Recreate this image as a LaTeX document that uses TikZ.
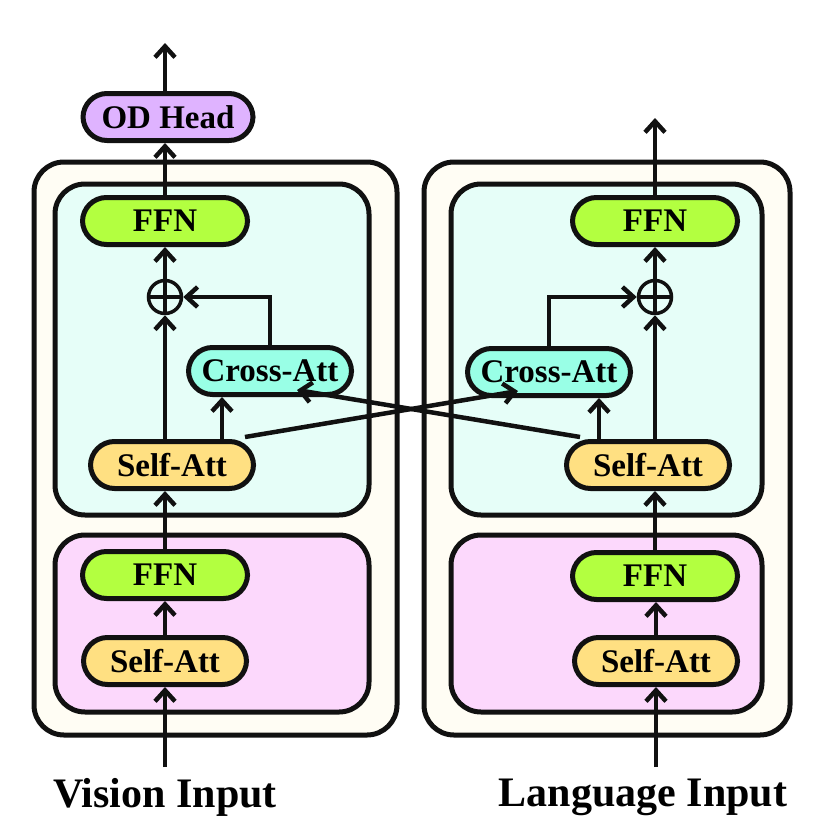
\documentclass[tikz,border=0pt]{standalone}
\usepackage{fontspec}
\setmainfont{Liberation Serif}
\usetikzlibrary{arrows.meta,calc}
\definecolor{outerfill}{HTML}{FFFDF4}
\definecolor{cyanfill}{HTML}{E6FEF8}
\definecolor{pinkfill}{HTML}{FCD8FC}
\definecolor{ffnfill}{HTML}{B3FF40}
\definecolor{safill}{HTML}{FFE082}
\definecolor{cafill}{HTML}{99FFE6}
\definecolor{odfill}{HTML}{DFB3FF}
\definecolor{ink}{HTML}{111111}
\tikzset{
  blk/.style={draw=ink, line width=5pt, rounded corners=24pt, minimum height=47pt, inner sep=0pt,
    font=\fontsize{33}{38}\selectfont\bfseries},
  ffnbox/.style={blk, fill=ffnfill, minimum width=165pt},
  sabox/.style={blk, fill=safill, minimum width=163pt},
  cabox/.style={blk, fill=cafill, minimum width=163pt},
  odbox/.style={blk, fill=odfill, minimum width=170pt},
  container/.style={draw=ink, line width=5pt, rounded corners=30pt},
  arr/.style={draw=ink, line width=4.5pt, -{Straight Barb[length=11pt,width=20pt,line width=4.5pt]}},
  ln/.style={draw=ink, line width=4.5pt},
  plusc/.style={circle, draw=ink, line width=3.5pt, minimum size=33pt, inner sep=0pt},
  inlabel/.style={font=\fontsize{42}{48}\selectfont\bfseries}
}
\begin{document}
\begin{tikzpicture}[x=1pt,y=-1pt]
\useasboundingbox (0,0) rectangle (830,830);
% containers
\draw[container, fill=outerfill] (34,162) rectangle (397,735);
\draw[container, fill=outerfill] (424,162) rectangle (790,735);
\draw[container, fill=cyanfill] (55,184) rectangle (369,515);
\draw[container, fill=pinkfill] (55,535) rectangle (369,712);
\draw[container, fill=cyanfill] (451,184) rectangle (762,515);
\draw[container, fill=pinkfill] (451,535) rectangle (762,712);
% left column nodes
\node[odbox] (od) at (168,117) {OD Head};
\node[ffnbox] (ffnTL) at (165,221) {FFN};
\node[plusc] (pL) at (165,297) {};
\node[cabox] (caL) at (270,371) {Cross-Att};
\node[sabox] (saTL) at (172,465) {Self-Att};
\node[ffnbox] (ffnBL) at (165,575) {FFN};
\node[sabox] (saBL) at (165,661) {Self-Att};
% right column nodes
\node[ffnbox] (ffnTR) at (655,221) {FFN};
\node[plusc] (pR) at (655,297) {};
\node[cabox] (caR) at (549,372) {Cross-Att};
\node[sabox] (saTR) at (648,465) {Self-Att};
\node[ffnbox] (ffnBR) at (655,576) {FFN};
\node[sabox] (saBR) at (656,661) {Self-Att};
% plus signs
\draw[ln, line width=3.5pt] (pL.north) -- (pL.south) (pL.west) -- (pL.east);
\draw[ln, line width=3.5pt] (pR.north) -- (pR.south) (pR.west) -- (pR.east);
% labels
\node[inlabel] (vin) at (165,797) {Vision Input};
\node[inlabel] (lin) at (643,797) {Language Input};
\coordinate (vinTop) at (165,767);
\coordinate (linTop) at (656,767);
\coordinate (odOut) at (165,43);
\coordinate (rOut) at (655,118);
% left arrows
\draw[arr] (vinTop) -- (saBL.south);
\draw[arr] (saBL.north) -- (ffnBL.south);
\draw[arr] (ffnBL.north) -- (ffnBL.north |- saTL.south);
\draw[arr] (pL |- saTL.north) -- (pL.south);
\draw[arr] ([xshift=50pt]saTL.north) -- ([xshift=50pt]saTL.north |- caL.south);
\draw[arr] (caL.north) |- (pL.east);
\draw[arr] (pL.north) -- (ffnTL.south);
\draw[arr] (ffnTL.north) -- (ffnTL.north |- od.south);
\draw[arr] (ffnTL.north |- od.north) -- (odOut);
% right arrows
\draw[arr] (linTop) -- (saBR.south);
\draw[arr] (saBR.north) -- (saBR.north |- ffnBR.south);
\draw[arr] (ffnBR.north) -- (ffnBR.north |- saTR.south);
\draw[arr] (pR |- saTR.north) -- (pR.south);
\draw[arr] ([xshift=-49pt]saTR.north) -- ([xshift=-49pt]saTR.north |- caR.south);
\draw[arr] (caR.north) |- (pR.west);
\draw[arr] (pR.north) -- (ffnTR.south);
\draw[arr] (ffnTR.north) -- (rOut);
% cross connections
\draw[arr] ([xshift=73pt,yshift=2pt]saTL.north) -- ([xshift=-31pt,yshift=7pt]caR.south);
\draw[arr] ([xshift=-68pt,yshift=2pt]saTR.north) -- ([xshift=27pt,yshift=7pt]caL.south);
\end{tikzpicture}
\end{document}
